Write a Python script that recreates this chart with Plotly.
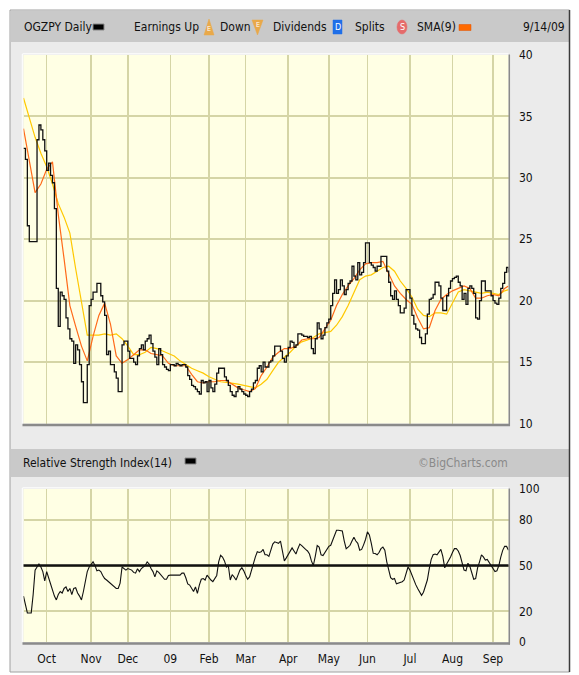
import pandas as pd
import plotly.graph_objects as go

# ---------------- data ----------------
start_day = "2008-09-15"
end_day = "2009-09-14"
holidays = ["2008-11-27", "2008-12-25", "2009-01-01", "2009-01-19", "2009-02-16",
            "2009-04-10", "2009-05-25", "2009-07-03", "2009-09-07"]

close = [
    32.4, 31.5, 26.1, 24.8, 24.8, 24.8, 24.8, 33.1, 34.3, 33.9,
    33.1, 32.2, 30.6, 31.2, 30.2, 29.6, 27.5, 21.0, 17.9, 20.7,
    20.4, 20.1, 18.6, 17.7, 16.9, 16.7, 14.9, 16.4, 16.0, 14.8,
    13.4, 11.7, 11.7, 14.8, 19.6, 20.1, 20.7, 20.7, 21.4, 21.4,
    20.4, 19.9, 18.8, 15.6, 15.9, 14.8, 14.8, 14.2, 13.7, 12.6,
    12.6, 16.4, 16.7, 16.7, 15.9, 15.3, 15.3, 15.0, 14.8, 15.5,
    16.1, 16.4, 16.0, 16.7, 16.9, 17.2, 16.5, 15.9, 15.4, 14.8,
    16.1, 15.6, 14.8, 14.6, 14.4, 14.3, 14.8, 14.8, 14.7, 14.9,
    14.8, 14.7, 14.8, 14.8, 14.6, 13.9, 13.6, 13.1, 13.0, 12.8,
    12.6, 12.4, 13.5, 13.3, 13.4, 12.6, 13.5, 12.9, 12.6, 13.2,
    14.1, 14.5, 14.5, 14.5, 13.8, 13.5, 13.1, 12.6, 12.3, 12.2,
    12.6, 13.0, 12.8, 12.6, 12.4, 12.3, 12.2, 12.6, 12.8, 13.3,
    13.5, 14.5, 14.7, 14.2, 15.0, 14.6, 14.6, 15.0, 15.1, 15.5,
    16.3, 16.3, 16.3, 15.9, 15.3, 15.0, 15.5, 16.2, 16.7, 16.6,
    16.2, 16.4, 17.3, 17.3, 17.2, 17.1, 17.1, 17.0, 17.1, 16.1,
    15.7, 16.9, 18.2, 17.7, 16.9, 17.2, 17.8, 18.2, 18.5, 19.6,
    20.6, 21.7, 20.6, 20.9, 21.7, 21.2, 20.5, 20.9, 21.4, 21.6,
    22.8, 22.0, 21.7, 23.1, 22.1, 22.3, 23.1, 24.7, 24.7, 23.1,
    22.9, 22.7, 22.4, 22.8, 22.8, 23.6, 23.6, 23.6, 22.4, 21.5,
    20.4, 20.1, 20.8, 20.1, 19.6, 19.0, 19.0, 19.4, 20.9, 20.9,
    20.2, 18.8, 18.1, 17.7, 17.6, 17.0, 16.5, 16.5, 17.3, 18.9,
    20.1, 20.2, 20.5, 21.5, 21.5, 21.2, 20.2, 19.2, 19.2, 20.4,
    21.0, 21.6, 21.8, 21.9, 22.0, 21.5, 21.2, 20.1, 20.6, 19.7,
    21.0, 21.2, 21.0, 20.6, 18.6, 18.5, 20.0, 21.6, 21.6, 20.8,
    20.8, 20.8, 20.4, 20.0, 19.8, 19.7, 20.2, 21.0, 21.4, 22.3,
    22.7, 22.3,
]

# moving averages read every 3rd trading day (plus the last day)
sma9 = [
    34.0, 31.4, 28.8, 29.5, 30.7, 31.3, 27.0, 23.4, 19.6, 17.9,
    16.3, 15.1, 17.1, 18.8, 19.8, 18.1, 15.5, 14.9, 15.2, 15.6,
    16.0, 16.0, 15.7, 15.6, 15.5, 14.9, 14.7, 14.7, 14.7, 14.0,
    13.4, 13.3, 13.4, 13.4, 13.5, 13.5, 13.2, 12.9, 12.75, 12.6,
    12.85, 13.9, 14.6, 15.4, 15.8, 16.1, 16.1, 16.3, 16.8, 16.9,
    16.9, 17.0, 17.7, 18.4, 19.6, 20.5, 21.2, 21.8, 22.5, 23.0,
    23.1, 23.1, 23.2, 22.2, 21.2, 20.6, 20.1, 19.7, 18.6, 17.7,
    17.8, 19.2, 20.1, 20.5, 20.8, 21.0, 21.2, 21.0, 20.2, 20.2,
    20.4, 20.5, 20.4, 21.0, 21.2,
]
sma_slow = [
    36.5, 34.8, 33.3, 32.0, 30.9, 29.5, 27.9, 26.8, 25.5, 22.6,
    20.0, 17.2, 17.2, 17.2, 17.3, 17.2, 17.3, 16.9, 16.3, 15.6,
    15.6, 15.8, 16.2, 16.1, 15.9, 15.7, 15.5, 15.1, 14.8, 14.5,
    14.3, 14.1, 13.8, 13.6, 13.4, 13.35, 13.3, 13.2, 13.1, 13.0,
    12.9, 13.2, 13.6, 14.3, 15.0, 15.4, 15.8, 16.3, 16.65, 16.8,
    17.0, 17.3, 17.4, 17.5, 18.0, 18.7, 19.6, 20.7, 21.7, 22.0,
    22.1, 22.4, 22.7, 22.8, 22.4, 21.6, 21.0, 20.3, 19.3, 18.8,
    18.7, 19.0, 19.0, 18.9, 19.8, 20.7, 20.9, 20.8, 20.7, 20.6,
    20.7, 20.6, 20.5, 20.8, 20.9,
]

rsi14 = [
    30, 24, 19, 19, 19, 31, 47, 49, 51, 49,
    46, 40, 46, 42, 38, 33, 30, 27.5, 31, 33,
    32, 35, 36, 33, 35, 31, 35, 35.5, 32, 30,
    27.5, 33, 41, 46, 49, 50.5, 52.4, 50, 46.5, 47,
    46, 43.5, 41.5, 40.5, 39.4, 38.5, 37, 36, 35, 35,
    38.5, 49, 48, 47, 48, 47.5, 47, 45.5, 45, 47.9,
    46, 48, 49, 50, 52.4, 51, 48, 46, 42.6, 46.5,
    45.5, 44, 42.6, 41, 41, 43.5, 43.7, 43.7, 43.7, 43.7,
    43.7, 43.7, 45, 45, 42, 38, 37.2, 35, 33, 36,
    31.8, 37.2, 41, 41.5, 40.5, 43.7, 42, 40.5, 39.5, 41.6,
    43.5, 52.4, 56.7, 55.5, 53, 49, 50, 40.5, 44, 42.5,
    40.5, 43.7, 47, 48.5, 46.5, 43.5, 41, 42.5, 47.5, 51,
    55.6, 59, 58.5, 59, 60.5, 57, 57, 56, 61, 64,
    65.5, 65, 64.5, 66, 60, 53, 55, 57, 59, 61.5,
    59.5, 57.5, 61, 64, 63, 61.5, 60.5, 59.5, 57.5, 53,
    50, 56, 63, 62, 57, 56.5, 58.5, 61, 62.5, 63.2,
    66.4, 70, 73, 73, 72.5, 72.5, 66, 61, 62, 63.2,
    66, 68.5, 66, 64.5, 60, 60.5, 63.5, 67, 72, 70,
    64.5, 58, 57.8, 57, 58.5, 61, 62, 60, 52.4, 46,
    42, 41, 41.5, 38, 38.5, 39.4, 39.4, 40.5, 45.5, 49,
    47, 43.5, 40, 37.5, 35, 33, 30.5, 32.5, 36, 40.5,
    47.9, 54, 57, 57.5, 57, 59, 60.5, 56, 48.5, 51,
    53, 55.6, 58.5, 61, 61, 59.5, 56.5, 52, 47, 46.5,
    51.5, 49.5, 45, 41, 41.5, 48.5, 52.4, 57, 55.6, 53.6,
    54, 52, 49.5, 47.5, 46, 46.5, 50, 55.5, 59.9, 62.5,
    62.5, 60,
]

month_labels = ["Oct", "Nov", "Dec", "09", "Feb", "Mar", "Apr", "May", "Jun", "Jul", "Aug", "Sep"]
price_ticks = [10, 15, 20, 25, 30, 35, 40]
rsi_ticks = [0, 20, 50, 80, 100]

# ---------------- derived positions ----------------
days = pd.bdate_range(start_day, end_day)
days = days[~days.isin(pd.to_datetime(holidays))]
n = min(len(days), len(close), len(rsi14))
days = days[:n]
close = close[:n]
rsi14 = rsi14[:n]

sma_idx = list(range(0, n, 3))
if sma_idx[-1] != n - 1:
    sma_idx.append(n - 1)
m = min(len(sma_idx), len(sma9), len(sma_slow))
sma_days = days[sma_idx[:m]]

s = days.to_series()
month_starts = list(s.groupby(days.to_period("M")).min().iloc[1:])

W, H = 579, 675
def px(x): return x / W
def py(y): return 1 - y / H

FONT = "DejaVu Sans Condensed"
GRID = "#D5D5A6"
PLOT_BG = "#FFFFE4"
FRAME = "#EBEBEB"
BAND = "#C9C9C9"
TXT = "#111111"

L, R = 23.5, 508.5
TOP1, BOT1 = 55, 423.5
TOP2, BOT2 = 489, 642

fig = go.Figure()
fig.add_trace(go.Scatter(x=sma_days, y=sma_slow[:m], mode="lines",
                         line=dict(color="#FFC800", width=1.2), xaxis="x", yaxis="y",
                         hoverinfo="skip"))
fig.add_trace(go.Scatter(x=sma_days, y=sma9[:m], mode="lines",
                         line=dict(color="#FF6A1A", width=1.2), xaxis="x", yaxis="y",
                         hoverinfo="skip"))
fig.add_trace(go.Scatter(x=days, y=close, mode="lines", line_shape="hv",
                         line=dict(color=TXT, width=1.3), xaxis="x", yaxis="y"))
fig.add_trace(go.Scatter(x=days, y=rsi14, mode="lines",
                         line=dict(color=TXT, width=1.1), xaxis="x2", yaxis="y2"))

breaks = [dict(bounds=["sat", "mon"]), dict(values=holidays)]
xcommon = dict(type="date", rangebreaks=breaks, range=[days[0], days[-1]],
               domain=[px(L), px(R)], tickvals=month_starts, ticktext=month_labels,
               showgrid=True, gridcolor=GRID, gridwidth=1.5, zeroline=False,
               showline=False, fixedrange=True, automargin=False)
tickfont = dict(family=FONT, size=12, color=TXT)
fig.update_layout(
    width=W, height=H, autosize=False,
    margin=dict(l=0, r=0, t=0, b=0, pad=0, autoexpand=False),
    paper_bgcolor="white", plot_bgcolor="rgba(0,0,0,0)", showlegend=False,
    font=dict(family=FONT, size=12, color=TXT),
    xaxis=dict(**xcommon, anchor="y", showticklabels=False, ticks=""),
    xaxis2=dict(**xcommon, anchor="y2", matches="x", showticklabels=True,
                ticks="outside", ticklen=6, tickcolor="rgba(0,0,0,0)", tickfont=tickfont),
    yaxis=dict(domain=[py(BOT1), py(TOP1)], range=[10, 40], side="right",
               tickvals=price_ticks, showgrid=True, gridcolor=GRID, gridwidth=2,
               zeroline=False, ticks="outside", ticklen=7, tickcolor="rgba(0,0,0,0)",
               tickfont=tickfont, anchor="x", fixedrange=True, automargin=False),
    yaxis2=dict(domain=[py(BOT2), py(TOP2)], range=[0, 100], side="right",
                tickvals=rsi_ticks, showgrid=True, gridcolor=GRID, gridwidth=2,
                zeroline=False, ticks="outside", ticklen=7, tickcolor="rgba(0,0,0,0)",
                tickfont=tickfont, anchor="x2", fixedrange=True, automargin=False),
)

shapes = []
def rect(x0, y0, x1, y1, fill, line=None, lw=0, layer="below"):
    shapes.append(dict(type="rect", xref="paper", yref="paper",
                       x0=px(x0), x1=px(x1), y0=py(y1), y1=py(y0),
                       fillcolor=fill, line=dict(color=line or fill, width=lw), layer=layer))
def hline(x0, x1, y, color, w, layer="above"):
    shapes.append(dict(type="line", xref="paper", yref="paper", x0=px(x0), x1=px(x1),
                       y0=py(y), y1=py(y), line=dict(color=color, width=w), layer=layer))
def vline(x, y0, y1, color, w, layer="above"):
    shapes.append(dict(type="line", xref="paper", yref="paper", x0=px(x), x1=px(x),
                       y0=py(y0), y1=py(y1), line=dict(color=color, width=w), layer=layer))

# frame and title bands
rect(10, 10, 569.5, 672, FRAME, "#A0A0A0", 1)
rect(10.5, 11, 569, 42, BAND)
rect(10.5, 449, 569, 477, BAND)
# plot backgrounds
rect(L, TOP1, R, BOT1, PLOT_BG)
rect(L, TOP2, R, BOT2, PLOT_BG)
# frame right edge
vline(569.5, 10, 672, "#3A3A3A", 1.5)
# plot edge shading
for top, bot in ((TOP1, BOT1), (TOP2, BOT2)):
    hline(L - 1, R + 1.5, bot + 1.5, "#8A8A8A", 2.5)
    vline(R + 0.8, top - 0.5, bot + 2.5, "#8A8A8A", 1.5)
    hline(L - 1, R, top - 1.2, "#FFFFFF", 1)
    vline(L - 1.2, top - 1, bot, "#FFFFFF", 1)

# RSI 50 reference line
shapes.append(dict(type="line", xref="paper", yref="y2", x0=px(L), x1=px(R), y0=50, y1=50,
                   line=dict(color=TXT, width=2.5), layer="above"))

# legend swatches / icons in header
rect(93, 24, 104, 30, "#000000", "#888888", 1, layer="above")
rect(459, 24.5, 471, 30.5, "#FF6A00", "#E05000", 0.5, layer="above")
rect(185, 458, 196, 464, "#000000", "#888888", 1, layer="above")
def tri(x0, x1, ytop, ybot, up, color):
    xm = (x0 + x1) / 2
    if up:
        path = f"M {px(xm)} {py(ytop)} L {px(x1)} {py(ybot)} L {px(x0)} {py(ybot)} Z"
    else:
        path = f"M {px(x0)} {py(ytop)} L {px(x1)} {py(ytop)} L {px(xm)} {py(ybot)} Z"
    shapes.append(dict(type="path", xref="paper", yref="paper", path=path,
                       fillcolor=color, line=dict(color=color, width=0.5), layer="above"))
tri(204, 214, 19, 35, True, "#E9A94A")
tri(252, 263, 20, 35, False, "#E9A94A")
rect(333, 20, 342, 34, "#1F6FE8", "#1F6FE8", 0.5, layer="above")
shapes.append(dict(type="circle", xref="paper", yref="paper", x0=px(397), x1=px(407),
                   y0=py(34), y1=py(20), fillcolor="#E56B6B",
                   line=dict(color="#E56B6B", width=0.5), layer="above"))
fig.update_layout(shapes=shapes)

ann = []
def text(x, y, t, anchor="left", size=12, color=TXT):
    ann.append(dict(x=px(x), y=py(y), xref="paper", yref="paper", text=t, showarrow=False,
                    xanchor=anchor, yanchor="middle",
                    font=dict(family=FONT, size=size, color=color)))
text(22, 27, "OGZPY Daily")
text(132, 27, "Earnings Up")
text(218, 27, "Down")
text(271, 27, "Dividends")
text(353, 27, "Splits")
text(415, 27, "SMA(9)")
text(567, 27, "9/14/09", anchor="right")
text(209, 29, "E", anchor="center", size=7, color="#FFFFFF")
text(257.5, 25, "E", anchor="center", size=7, color="#FFFFFF")
text(337.5, 27, "D", anchor="center", size=9, color="#FFFFFF")
text(402, 27, "S", anchor="center", size=9, color="#FFFFFF")
text(21, 463, "Relative Strength Index(14)")
text(510, 463, "©BigCharts.com", anchor="right", size=12, color="#8A8A8A")
fig.update_layout(annotations=ann)

page_js = (
    "document.documentElement.style.margin='0';"
    "document.documentElement.style.overflow='hidden';"
    "document.body.style.margin='0';"
    "document.body.style.overflow='hidden';"
    "var gd=document.getElementsByClassName('plotly-graph-div')[0];"
    "gd.style.position='absolute';gd.style.left='0px';gd.style.top='0px';"
)
fig.write_html("out.html", config={"displayModeBar": False, "staticPlot": True},
               post_script=page_js)
